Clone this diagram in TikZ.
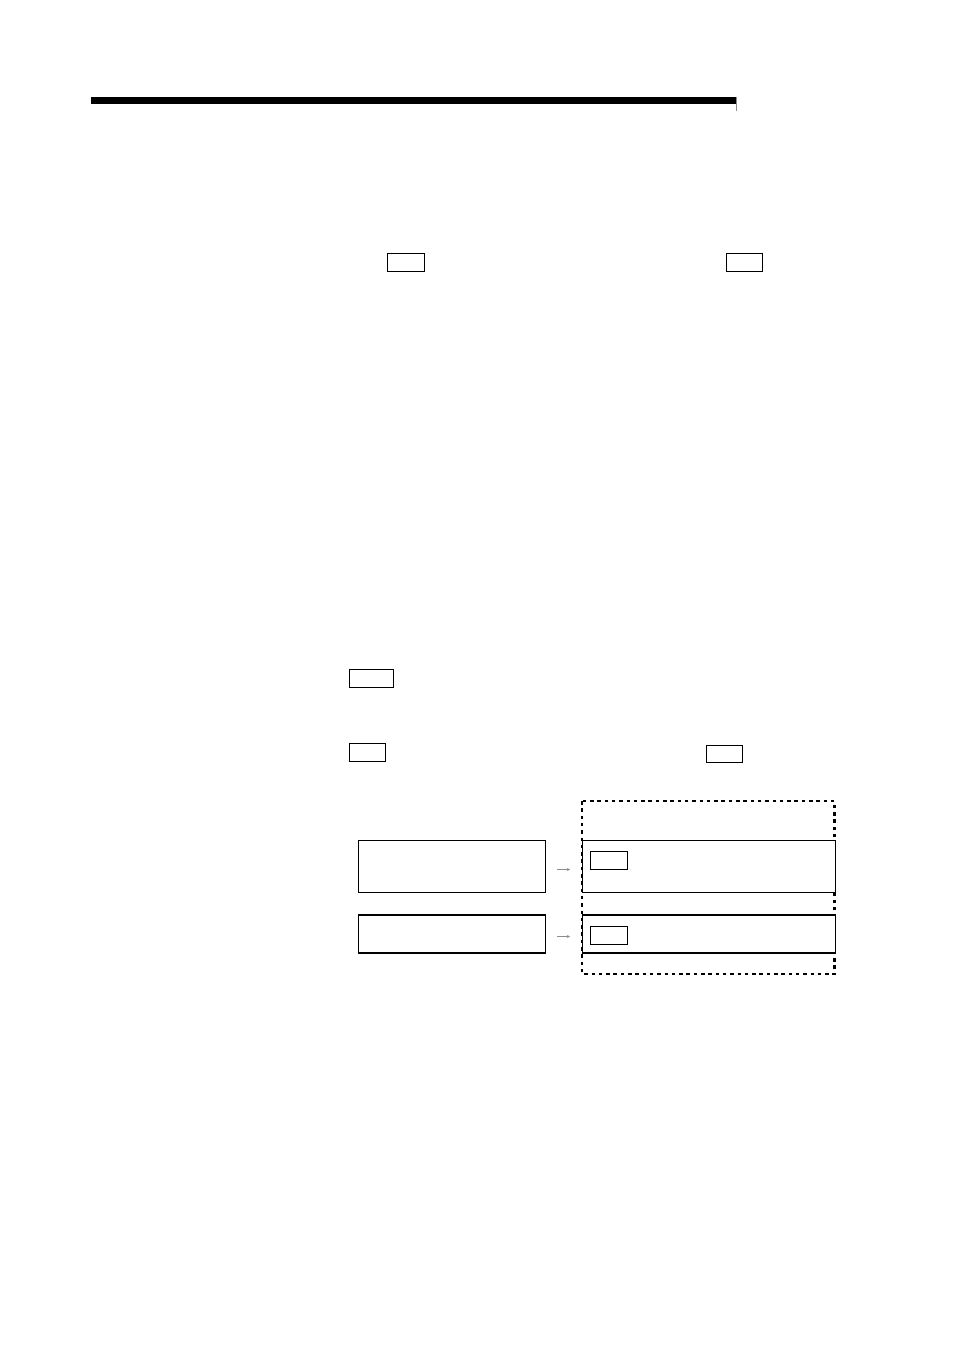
\documentclass[tikz,border=0pt]{standalone}
\usetikzlibrary{arrows.meta}
\begin{document}
\begin{tikzpicture}[x=1pt,y=-1pt,
  box/.style={draw,line width=0.9pt,inner sep=0pt,anchor=north west},
  thickedge/.style={line width=1.8pt},
  dashbox/.style={draw,line width=2.4pt,dash pattern=on 3.5pt off 3.8pt},
  smallarrow/.style={draw=black!45,line width=0.8pt,-{Stealth[length=3pt,width=3pt]}}
]
\useasboundingbox (0,0) rectangle (954,1351);
% header bar
\fill (91,97) rectangle (736,104);
\draw[black!45,line width=0.8pt] (736.5,97) -- (736.5,111);
% small boxes in text
\node[box,minimum width=37pt,minimum height=18pt] (b1) at (387,253) {};
\node[box,minimum width=36pt,minimum height=18pt] (b2) at (726,253) {};
\node[box,minimum width=44pt,minimum height=18pt] (b3) at (349,669) {};
\node[box,minimum width=36pt,minimum height=18pt] (b4) at (349,743) {};
\node[box,minimum width=36pt,minimum height=17pt] (b5) at (706,745) {};
% dashed frame
\draw[dashbox] (582,801) rectangle (834.5,974) coordinate (dframe);
% left boxes
\node[box,fill=white,minimum width=187pt,minimum height=52pt] (l1) at (358,840) {};
\node[box,fill=white,minimum width=187pt,minimum height=37pt] (l2) at (358,915) {};
\draw[thickedge] (l2.north west) -- (l2.north east);
\draw[thickedge] (l2.south west) -- (l2.south east);
% right boxes
\node[box,fill=white,minimum width=252.5pt,minimum height=52pt] (r1) at (582,840) {};
\node[box,fill=white,minimum width=252.5pt,minimum height=37pt] (r2) at (582,915) {};
\draw[thickedge] (r2.north west) -- (r2.north east);
\draw[thickedge] (r2.south west) -- (r2.south east);
% small boxes inside right boxes
\node[box,minimum width=37pt,minimum height=18pt] (s1) at (589.5,850.5) {};
\node[box,minimum width=37pt,minimum height=18pt] (s2) at (589.5,925.5) {};
% arrows
\coordinate (a1s) at (557,869.5);
\coordinate (a1e) at (570,869.5);
\coordinate (a2s) at (557,936.5);
\coordinate (a2e) at (570,936.5);
\draw[smallarrow] (a1s) -- (a1e);
\draw[smallarrow] (a2s) -- (a2e);
\end{tikzpicture}
\end{document}
